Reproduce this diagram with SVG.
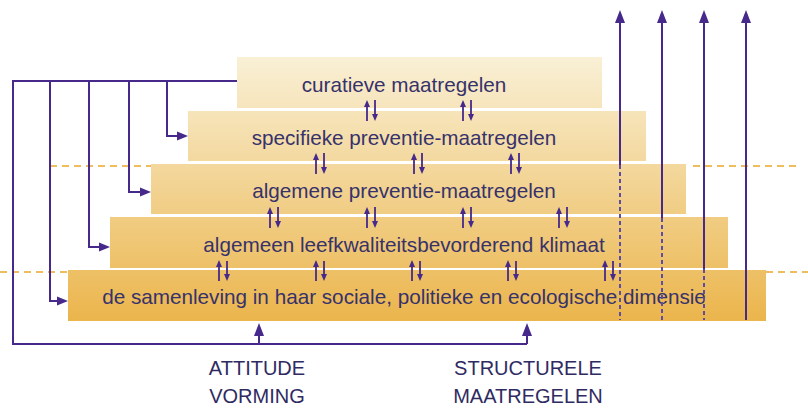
<svg xmlns="http://www.w3.org/2000/svg" width="808" height="408" viewBox="0 0 808 408">
<defs>
<linearGradient id="pyr" gradientUnits="userSpaceOnUse" x1="0" y1="57" x2="0" y2="321">
<stop offset="0" stop-color="#f9f0d6"/>
<stop offset="1" stop-color="#ebb54c"/>
</linearGradient>
<marker id="big" markerUnits="userSpaceOnUse" markerWidth="13" markerHeight="10" refX="0" refY="5" orient="auto" viewBox="0 0 13 10">
<path d="M0,0 L13,5 L0,10 z" fill="#46298a"/>
</marker>
<marker id="side" markerUnits="userSpaceOnUse" markerWidth="11" markerHeight="10" refX="0" refY="5" orient="auto" viewBox="0 0 11 10">
<path d="M0,0.5 L11,5 L0,9.5 z" fill="#46298a"/>
</marker>
<marker id="sm" markerUnits="userSpaceOnUse" markerWidth="7" markerHeight="6" refX="0" refY="3" orient="auto" viewBox="0 0 7 6">
<path d="M0,0 L7,3 L0,6 z" fill="#46298a"/>
</marker>
</defs>
<style>
.box{fill:url(#pyr)}
.t{font-family:"Liberation Sans",Arial,sans-serif;font-size:20.7px;fill:#37326a;text-anchor:middle}
.lab{font-family:"Liberation Sans",Arial,sans-serif;font-size:20px;fill:#2f2b62;text-anchor:middle}
.ln{fill:none;stroke:#46298a;stroke-width:2}
.dv{fill:none;stroke:#5e4ca2;stroke-width:2;stroke-dasharray:4 3}
.sa{fill:none;stroke:#46298a;stroke-width:1.8;marker-end:url(#sm)}
.dh{fill:none;stroke:#efbd5e;stroke-width:2;stroke-dasharray:7 5}
</style>
<g id="guides">
<line class="dh" x1="50" y1="166" x2="151" y2="166"/>
<line class="dh" x1="693" y1="166" x2="797" y2="166"/>
<line class="dh" x1="0" y1="272" x2="68" y2="272"/>
<line class="dh" x1="766" y1="272" x2="808" y2="272"/>
</g>
<g id="node-curatieve">
<rect class="box" x="237" y="57" width="365" height="51"/>
<text class="t" x="404" y="92">curatieve maatregelen</text>
</g>
<g id="node-specifieke">
<rect class="box" x="188" y="111" width="458" height="50"/>
<text class="t" x="404" y="144.5">specifieke preventie-maatregelen</text>
</g>
<g id="node-algemene">
<rect class="box" x="151" y="164" width="535" height="50"/>
<text class="t" x="404" y="197.5">algemene preventie-maatregelen</text>
</g>
<g id="node-klimaat">
<rect class="box" x="110" y="217" width="618" height="51"/>
<text class="t" x="404" y="252">algemeen leefkwaliteitsbevorderend klimaat</text>
</g>
<g id="node-samenleving">
<rect class="box" x="68" y="270" width="698" height="51"/>
<text class="t" x="404" y="304">de samenleving in haar sociale, politieke en ecologische dimensie</text>
</g>
<g id="node-attitude">
<text class="lab" x="257" y="375">ATTITUDE</text>
<text class="lab" x="257" y="403">VORMING</text>
</g>
<g id="node-structurele">
<text class="lab" x="528" y="375">STRUCTURELE</text>
<text class="lab" x="528" y="403">MAATREGELEN</text>
</g>
<g id="connectors">
<path class="ln" d="M237,81 H13 V344 H527"/>
<path class="ln" d="M259,344 V336" marker-end="url(#big)"/>
<path class="ln" d="M527,344 V336" marker-end="url(#big)"/>
<path class="ln" d="M167,81 V136 H177" marker-end="url(#side)"/>
<path class="ln" d="M129,81 V192 H140" marker-end="url(#side)"/>
<path class="ln" d="M89,81 V247 H99" marker-end="url(#side)"/>
<path class="ln" d="M50,81 V301 H57" marker-end="url(#side)"/>
<path class="ln" d="M620,165 V23" marker-end="url(#big)"/>
<path class="ln" d="M662,218 V23" marker-end="url(#big)"/>
<path class="ln" d="M704,269 V23" marker-end="url(#big)"/>
<path class="ln" d="M746,320 V23" marker-end="url(#big)"/>
<path class="dv" d="M620,165 V320"/>
<path class="dv" d="M662,218 V320"/>
<path class="dv" d="M704,269 V320"/>
<g id="pairs-1-2">
<path class="sa" d="M367,121 V107"/><path class="sa" d="M375,100 V114"/>
<path class="sa" d="M463,121 V107"/><path class="sa" d="M471,100 V114"/>
</g>
<g id="pairs-2-3">
<path class="sa" d="M316,174 V160"/><path class="sa" d="M324,153 V167"/>
<path class="sa" d="M414,174 V160"/><path class="sa" d="M422,153 V167"/>
<path class="sa" d="M511,174 V160"/><path class="sa" d="M519,153 V167"/>
</g>
<g id="pairs-3-4">
<path class="sa" d="M270,228 V214"/><path class="sa" d="M278,207 V221"/>
<path class="sa" d="M367,228 V214"/><path class="sa" d="M375,207 V221"/>
<path class="sa" d="M463,228 V214"/><path class="sa" d="M471,207 V221"/>
<path class="sa" d="M559,228 V214"/><path class="sa" d="M567,207 V221"/>
</g>
<g id="pairs-4-5">
<path class="sa" d="M219,281 V267"/><path class="sa" d="M227,261 V274"/>
<path class="sa" d="M316,281 V267"/><path class="sa" d="M324,261 V274"/>
<path class="sa" d="M412,281 V267"/><path class="sa" d="M420,261 V274"/>
<path class="sa" d="M508,281 V267"/><path class="sa" d="M516,261 V274"/>
<path class="sa" d="M605,281 V267"/><path class="sa" d="M613,261 V274"/>
</g>
</g>
</svg>
